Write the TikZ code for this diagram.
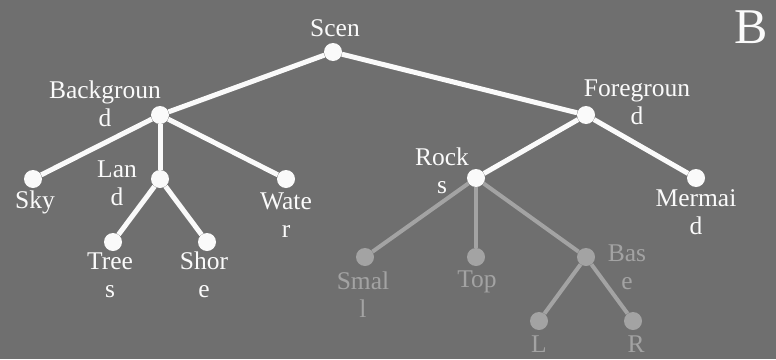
\documentclass[tikz,border=0pt]{standalone}
\usepackage{fontspec}
\setmainfont{Liberation Serif}
\usetikzlibrary{positioning}
\definecolor{slate}{RGB}{111,111,111}
\definecolor{chalk}{RGB}{250,250,250}
\definecolor{faded}{RGB}{163,163,163}

\begin{document}
\begin{tikzpicture}[x=1pt,y=-1pt,
    dot/.style={circle,fill=chalk,inner sep=0pt,minimum size=18pt},
    dimdot/.style={dot,fill=faded},
    edge/.style={draw=chalk,line width=5pt},
    dimedge/.style={draw=faded,line width=4pt},
    lbl/.style={text=chalk,align=center,anchor=base,inner sep=0pt,font=\fontsize{25.5}{28}\selectfont},
    dimlbl/.style={lbl,text=faded}]
  \fill[slate] (0,0) rectangle (776,359);
  % dots
  \node[dot] (scen) at (333,52) {};
  \node[dot] (bg) at (160,115) {};
  \node[dot] (fg) at (586,115) {};
  \node[dot] (sky) at (33,179) {};
  \node[dot] (land) at (160,179) {};
  \node[dot] (water) at (286,179) {};
  \node[dot] (trees) at (113,242) {};
  \node[dot] (shore) at (207,242) {};
  \node[dot] (rocks) at (476,178) {};
  \node[dot] (mermaid) at (696,178) {};
  \node[dimdot] (small) at (365,257) {};
  \node[dimdot] (top) at (476,257) {};
  \node[dimdot] (base) at (586,257) {};
  \node[dimdot] (left) at (539,321) {};
  \node[dimdot] (right) at (633,321) {};
  % edges
  \draw[edge] (scen) -- (bg);
  \draw[edge] (scen) -- (fg);
  \foreach \c in {sky,land,water}
    \draw[edge] (bg) -- (\c);
  \draw[edge] (land) -- (trees);
  \draw[edge] (land) -- (shore);
  \draw[edge] (fg) -- (rocks);
  \draw[edge] (fg) -- (mermaid);
  \foreach \c in {small,top,base}
    \draw[dimedge] (rocks) -- (\c);
  \draw[dimedge] (base) -- (left);
  \draw[dimedge] (base) -- (right);
  % labels (base = last line)
  \node[lbl] (scenl) at (335,36) {Scen};
  \node[lbl] (bgl) at (105,126) {Backgroun\\d};
  \node[lbl] (fgl) at (637,124) {Foregroun\\d};
  \node[lbl] (skyl) at (35,208) {Sky};
  \node[lbl] (landl) at (117,205) {Lan\\d};
  \node[lbl] (waterl) at (286,237) {Wate\\r};
  \node[lbl] (treesl) at (110,297) {Tree\\s};
  \node[lbl] (shorel) at (204,297) {Shor\\e};
  \node[lbl] (rocksl) at (442,193) {Rock\\s};
  \node[lbl] (mermaidl) at (696,234) {Mermai\\d};
  \node[dimlbl] (smalll) at (363,317) {Smal\\l};
  \node[dimlbl] (topl) at (477,287) {Top};
  \node[dimlbl] (basel) at (627,289) {Bas\\e};
  \node[dimlbl] (leftl) at (539,352) {L};
  \node[dimlbl] (rightl) at (636,352) {R};
  \node[lbl,font=\fontsize{50}{56}\selectfont] (panel) at (751,43) {B};
\end{tikzpicture}
\end{document}
